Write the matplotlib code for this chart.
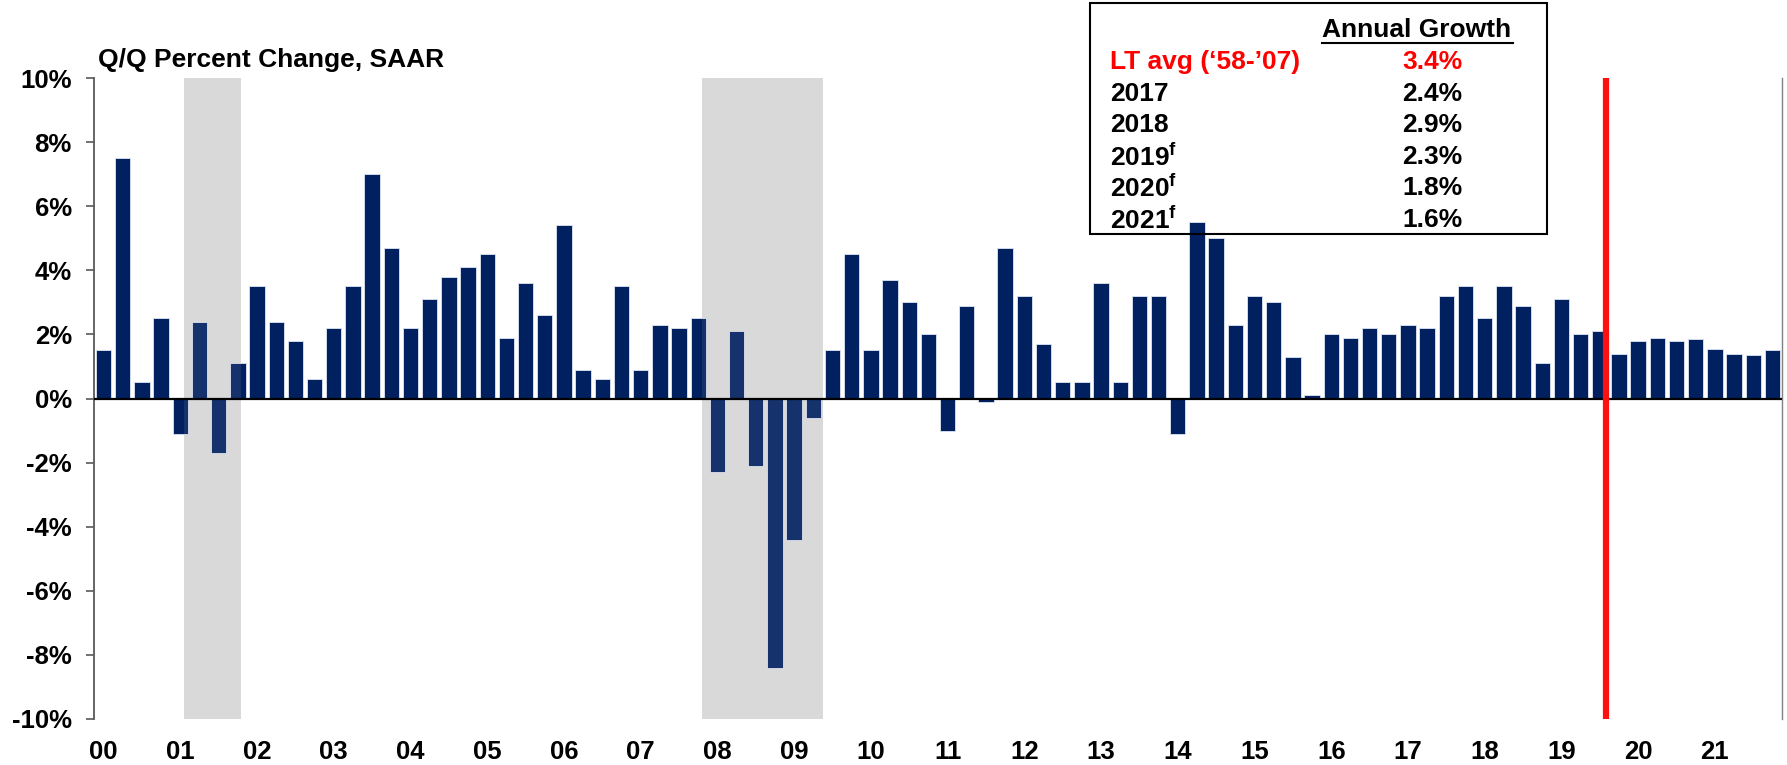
import matplotlib
matplotlib.use("Agg")
import matplotlib.pyplot as plt
import numpy as np
from matplotlib.lines import Line2D
from matplotlib.patches import Rectangle

plt.rcParams['font.family'] = ['Liberation Sans', 'DejaVu Sans']
plt.rcParams['font.weight'] = 'bold'
plt.rcParams['mathtext.fontset'] = 'custom'
plt.rcParams['mathtext.rm'] = 'Liberation Sans:bold'
plt.rcParams['mathtext.bf'] = 'Liberation Sans:bold'

# quarterly real GDP growth, Q/Q % SAAR, 2000Q1 - 2021Q4
gdp_growth = [
    1.5, 7.5, 0.5, 2.5,      # 2000
    -1.1, 2.4, -1.7, 1.1,    # 2001
    3.5, 2.4, 1.8, 0.6,      # 2002
    2.2, 3.5, 7.0, 4.7,      # 2003
    2.2, 3.1, 3.8, 4.1,      # 2004
    4.5, 1.9, 3.6, 2.6,      # 2005
    5.4, 0.9, 0.6, 3.5,      # 2006
    0.9, 2.3, 2.2, 2.5,      # 2007
    -2.3, 2.1, -2.1, -8.4,   # 2008
    -4.4, -0.6, 1.5, 4.5,    # 2009
    1.5, 3.7, 3.0, 2.0,      # 2010
    -1.0, 2.9, -0.1, 4.7,    # 2011
    3.2, 1.7, 0.5, 0.5,      # 2012
    3.6, 0.5, 3.2, 3.2,      # 2013
    -1.1, 5.5, 5.0, 2.3,     # 2014
    3.2, 3.0, 1.3, 0.1,      # 2015
    2.0, 1.9, 2.2, 2.0,      # 2016
    2.3, 2.2, 3.2, 3.5,      # 2017
    2.5, 3.5, 2.9, 1.1,      # 2018
    3.1, 2.0, 2.1, 1.4,      # 2019
    1.8, 1.9, 1.8, 1.85,     # 2020
    1.55, 1.4, 1.35, 1.5,    # 2021
]
year_labels = ["%02d" % y for y in range(0, 22)]

# recessions (in quarter index units) and forecast start
recessions = [(4.19, 7.15), (31.2, 37.49)]
forecast_start = 78.33

# annual growth table
table_rows = ["LT avg (\u201858-\u201907)", "2017", "2018",
              r"2019$^{\mathrm{f}}$", r"2020$^{\mathrm{f}}$", r"2021$^{\mathrm{f}}$"]
table_vals = ["3.4%", "2.4%", "2.9%", "2.3%", "1.8%", "1.6%"]

W, H = 1787, 765
fig = plt.figure(figsize=(W / 100, H / 100), dpi=100)
ax = fig.add_axes([94 / W, 1 - 719 / H, (1782 - 94) / W, (719 - 78) / H])

x = np.arange(len(gdp_growth))
navy = "#002060"

for a, b in recessions:
    ax.axvspan(a, b, color="#d9d9d9", zorder=0, lw=0)
ax.bar(x, gdp_growth, width=0.8, color=navy, edgecolor="#dfe4f0",
       linewidth=0.6, zorder=2)
for a, b in recessions:
    ax.axvspan(a, b, color="#d9d9d9", alpha=0.1, zorder=3, lw=0)

ax.axhline(0, color="black", lw=1.6, zorder=4)
ax.axvline(forecast_start, color="#ff1010", lw=4.5, zorder=5)

ax.set_xlim(-0.5, len(gdp_growth) - 0.5)
ax.set_ylim(-10, 10)
ax.set_yticks(np.arange(-10, 11, 2))
ax.set_yticklabels(["%d%%" % v for v in range(-10, 11, 2)], fontsize=18.5)
ax.set_xticks(np.arange(0, len(gdp_growth), 4))
ax.set_xticklabels(year_labels, fontsize=18.5)
ax.tick_params(axis="y", length=6, width=1.2, color="#595959", pad=10)
ax.tick_params(axis="x", length=0, pad=15)

for s in ["top", "bottom"]:
    ax.spines[s].set_visible(False)
ax.spines["left"].set_color("#595959")
ax.spines["left"].set_linewidth(1.3)
ax.spines["right"].set_color("#808080")
ax.spines["right"].set_linewidth(1.0)

fig.text(98 / W, 1 - 60 / H, "Q/Q Percent Change, SAAR", fontsize=19,
         fontweight="bold", va="center", ha="left")

# table box
fig.patches.append(Rectangle((1090 / W, 1 - 234 / H), (1547 - 1090) / W,
                             (234 - 3) / H, transform=fig.transFigure,
                             fill=False, edgecolor="black", lw=1.5))
fig.text(1417 / W, 1 - 30 / H, "Annual Growth", fontsize=19, ha="center",
         va="center")
fig.add_artist(Line2D([1322 / W, 1513 / W], [1 - 43 / H, 1 - 43 / H],
                      color="black", lw=1.5, transform=fig.transFigure))
for i, (lab, val) in enumerate(zip(table_rows, table_vals)):
    yy = 1 - (62 + i * 31.6) / H
    c = "#ff0000" if i == 0 else "black"
    fig.text(1110 / W, yy, lab, fontsize=19, color=c, ha="left", va="center")
    fig.text(1432 / W, yy, val, fontsize=19, color=c, ha="center", va="center")

fig.savefig("out.png", dpi=100)
